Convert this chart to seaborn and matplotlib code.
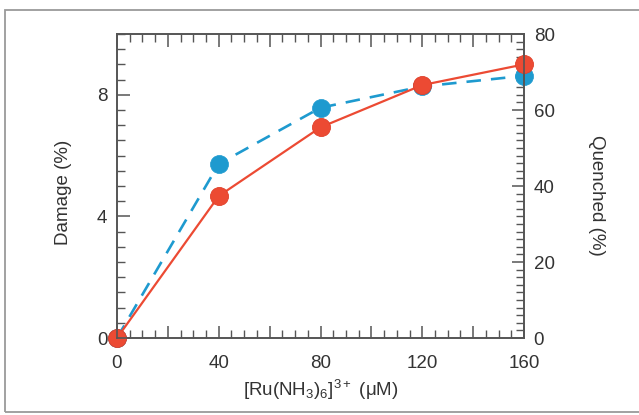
import matplotlib
matplotlib.use("Agg")
import matplotlib.pyplot as plt
import seaborn as sns
import pandas as pd
from matplotlib.patches import Rectangle
from matplotlib.ticker import MultipleLocator, FixedLocator, FuncFormatter

# ---- data ----
conc = [0, 40, 80, 120, 160]                 # [Ru(NH3)6]3+ (uM)
damage = [0.0, 4.67, 6.93, 8.32, 9.0]        # Damage (%), left axis (red)
quenched = [0.0, 45.8, 60.6, 66.2, 69.0]     # Quenched (%), right axis (blue)
x_ticks = [0, 40, 80, 120, 160]
left_ticks = [0, 4, 8]
right_ticks = [0, 20, 40, 60, 80]

sns.set_theme(style="white")
plt.rcParams["font.family"] = ["Liberation Sans", "DejaVu Sans"]
plt.rcParams["mathtext.default"] = "regular"

RED = "#EC4A33"
BLUE = "#1E9ACF"
TXT = "#333333"
SPINE = "#555555"

df = pd.DataFrame({"conc": conc, "damage": damage, "quenched": quenched})

fig = plt.figure(figsize=(6.39, 4.15), dpi=100)
ax = fig.add_axes([117/639, 1-338/415, (524-117)/639, (338-34)/415])
ax2 = ax.twinx()

sns.lineplot(data=df, x="conc", y="quenched", ax=ax2, color=BLUE, marker="o",
             markersize=13, markeredgecolor=BLUE, markeredgewidth=0.5,
             linewidth=1.9, clip_on=False)
ax2.lines[0].set_dashes((5.5, 3.8))
sns.lineplot(data=df, x="conc", y="damage", ax=ax, color=RED, marker="o",
             markersize=13, markeredgecolor="#E0402A", markeredgewidth=0.6,
             linewidth=1.6, clip_on=False)

# red series drawn above blue
ax.set_zorder(ax2.get_zorder() + 1)
ax.patch.set_visible(False)

ax.set_xlim(0, 160)
ax.set_ylim(0, 10)
ax2.set_ylim(0, 80)

ax.xaxis.set_major_locator(MultipleLocator(20))
ax.xaxis.set_major_formatter(FuncFormatter(lambda v, p: f"{int(round(v))}" if int(round(v)) in x_ticks else ""))
ax.xaxis.set_minor_locator(MultipleLocator(5))
ax.yaxis.set_major_locator(FixedLocator(left_ticks))
ax.yaxis.set_minor_locator(MultipleLocator(0.5))
ax2.yaxis.set_major_locator(FixedLocator(right_ticks))
ax2.yaxis.set_minor_locator(MultipleLocator(2))

ax.tick_params(axis="x", which="both", direction="in", top=True, bottom=True,
               colors=SPINE, labelcolor=TXT, labelsize=13.5, pad=12)
ax.tick_params(axis="y", which="both", direction="in", left=True, right=False,
               colors=SPINE, labelcolor=TXT, labelsize=13.5, pad=7)
ax.tick_params(which="major", length=9, width=1.1)
ax.tick_params(which="minor", length=6, width=1.0)
ax2.tick_params(axis="y", which="both", direction="in", right=True, left=False,
                colors=SPINE, labelcolor=TXT, labelsize=13.5, pad=7)
ax2.tick_params(which="major", length=9, width=1.1)
ax2.tick_params(which="minor", length=6, width=1.0)

for a in (ax, ax2):
    for s in a.spines.values():
        s.set_color(SPINE)
        s.set_linewidth(1.2)

ax.set_xlabel(r"[Ru(NH$_3$)$_6$]$^{3+}$ ($\mu$M)", fontsize=13.5, color=TXT)
ax.xaxis.set_label_coords(0.5, -0.13)
ax.set_ylabel("Damage (%)", fontsize=13.5, color=TXT)
ax.yaxis.set_label_coords(-0.11, 0.48)
ax2.set_ylabel("Quenched (%)", fontsize=13.5, color=TXT, rotation=270)
ax2.yaxis.set_label_coords(1.2, 0.47)

# figure frame
fig.patches.append(Rectangle((5/639, 3/415), 1.0, (412-10)/415, transform=fig.transFigure,
                             fill=False, edgecolor="#9a9a9a", linewidth=1.3))

fig.savefig("out.png", dpi=100)
